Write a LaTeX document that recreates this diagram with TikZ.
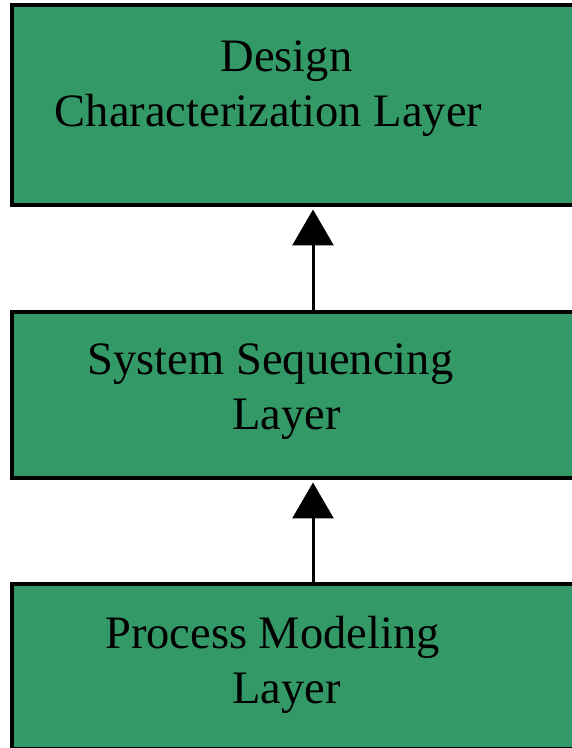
\documentclass[tikz,border=0pt]{standalone}
\usepackage{fontspec}
\setmainfont{Liberation Serif}
\usetikzlibrary{arrows.meta}
\definecolor{layergreen}{RGB}{51,153,102}

\begin{document}
\begin{tikzpicture}[
		x=1pt, y=1pt,
		layer/.style={draw, fill=layergreen, line width=4pt, minimum width=588.5pt, inner sep=0pt},
		lbl/.style={align=center, inner sep=0pt, font=\fontsize{46.5}{55.3}\selectfont},
		arr/.style={-{Triangle[length=36pt, width=41pt]}, line width=3pt, shorten >=2.5pt}
	]
		\useasboundingbox (0,0) rectangle (572,748);
		\clip (0,0) rectangle (572,748);
		% the three layers, right side runs off the page
		\node[layer, minimum height=200pt] (design) at (305.75,643) {};
		\node[layer, minimum height=165.5pt] (sequencing) at (305.75,352.75) {};
		\node[layer, minimum height=164.5pt] (modeling) at (305.75,81.25) {};
		% base of a two-line label is its last line
		\node[lbl, anchor=base] (designtxt) at (286.5,621) {Design\\Characterization Layer\hspace*{36pt}};
		\node[lbl, anchor=base] (sequencingtxt) at (286.5,318) {System Sequencing\hspace*{32pt}\\Layer};
		\node[lbl, anchor=base] (modelingtxt) at (286.5,44) {Process Modeling\hspace*{28pt}\\Layer};
		\draw[arr] ([xshift=7.25pt]sequencing.north) -- ([xshift=7.25pt]design.south);
		\draw[arr] ([xshift=7.25pt]modeling.north) -- ([xshift=7.25pt]sequencing.south);
	\end{tikzpicture}
\end{document}
